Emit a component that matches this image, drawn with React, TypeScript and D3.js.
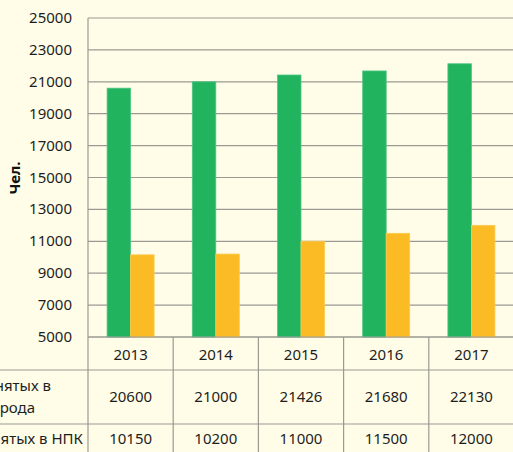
import React from "react";
import * as d3 from "d3";

const years = ["2013", "2014", "2015", "2016", "2017"];
const cityEmployed = [20600, 21000, 21426, 21680, 22130];
const npkEmployed = [10150, 10200, 11000, 11500, 12000];
const yTicks = [5000, 7000, 9000, 11000, 13000, 15000, 17000, 19000, 21000, 23000, 25000];
const seriesNames = ["city", "npk"];
const seriesColors = ["#22b35e", "#fbbb25"];
const rowLabels = [["Численность занятых в", "экономике города"], ["Численность занятых в НПК"]];

export default function App() {
  const W = 513, H = 452;
  const left = 88, right = 514, top = 18, bottom = 337;
  const row1 = 370, row2 = 424;
  const x = d3.scaleBand<string>().domain(years).range([left, right]).padding(0);
  const y = d3.scaleLinear().domain([5000, 25000]).range([bottom, top]);
  const bw = 23.5;
  const xs = d3.scaleBand<string>().domain(seriesNames).range([0, bw * 2]).padding(0);
  const font = "'Noto Sans', sans-serif";
  const grid = "#9a9a92";
  const data = [cityEmployed, npkEmployed];
  const txt = "#1e1e1e";
  return (
    <svg width={W} height={H} style={{ position: "absolute", left: 0, top: 0 }}>
      <rect x={0} y={0} width={W} height={H} fill="#fffde8" />
      {yTicks.map((t) => (
        <g key={t}>
          <line x1={left} x2={W} y1={y(t)} y2={y(t)} stroke={grid} strokeWidth={1.2} />
          <text x={72} y={y(t) + 5} textAnchor="end" fontFamily={font} fontSize={15} fill={txt}>{t}</text>
        </g>
      ))}
      {years.map((yr, i) => {
        const gx = (x(yr) as number) + x.bandwidth() / 2 - bw;
        return seriesNames.map((s, j) => {
          const v = data[j][i];
          return (
            <rect key={yr + s} x={gx + (xs(s) as number)} y={y(v)} width={xs.bandwidth()} height={bottom - y(v)}
              fill={seriesColors[j]} stroke={j === 0 ? "#4fc585" : "#fcc94f"} strokeWidth={0.8} />
          );
        });
      })}
      {/* table */}
      <line x1={left} x2={left} y1={top} y2={H} stroke={grid} strokeWidth={1.2} />
      <line x1={left} x2={W} y1={bottom} y2={bottom} stroke={grid} strokeWidth={1.2} />
      <line x1={0} x2={W} y1={row1} y2={row1} stroke={grid} strokeWidth={1.2} />
      <line x1={0} x2={W} y1={row2} y2={row2} stroke={grid} strokeWidth={1.2} />
      {years.map((yr) => (
        <line key={"v" + yr} x1={(x(yr) as number) + x.bandwidth()} x2={(x(yr) as number) + x.bandwidth()} y1={bottom} y2={H} stroke={grid} strokeWidth={1.2} />
      ))}
      {years.map((yr, i) => {
        const cx = (x(yr) as number) + x.bandwidth() / 2;
        return (
          <g key={"t" + yr} fontFamily={font} fontSize={15} fill={txt} textAnchor="middle">
            <text x={cx} y={359.5}>{yr}</text>
            <text x={cx} y={402}>{cityEmployed[i]}</text>
            <text x={cx} y={443.5}>{npkEmployed[i]}</text>
          </g>
        );
      })}
      <text x={51} y={391} textAnchor="end" fontFamily={font} fontSize={15} fill={txt}>{rowLabels[0][0]}</text>
      <text x={35} y={413} textAnchor="end" fontFamily={font} fontSize={15} fill={txt}>{rowLabels[0][1]}</text>
      <text x={83} y={443.5} textAnchor="end" fontFamily={font} fontSize={15} fill={txt}>{rowLabels[1][0]}</text>
      <text transform={`translate(20,178) rotate(-90)`} textAnchor="middle" fontFamily={font} fontSize={15} fontWeight="bold" fill="#111">Чел.</text>
    </svg>
  );
}
